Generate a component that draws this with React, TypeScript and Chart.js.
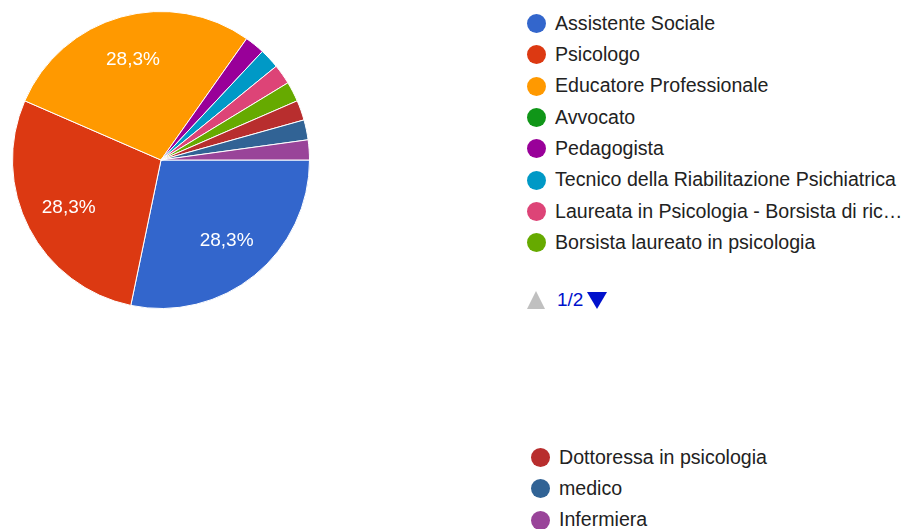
import React, { useEffect, useRef } from "react";
import { Chart, registerables } from "chart.js";

Chart.register(...registerables);

const categories = [
  "Assistente Sociale",
  "Psicologo",
  "Educatore Professionale",
  "Avvocato",
  "Pedagogista",
  "Tecnico della Riabilitazione Psichiatrica",
  "Laureata in Psicologia - Borsista di ric…",
  "Borsista laureato in psicologia",
  "Dottoressa in psicologia",
  "medico",
  "Infermiera",
];
const responses = [13, 13, 13, 0, 1, 1, 1, 1, 1, 1, 1];
const pageOneCount = 8;
const pagerLabel = "1/2";

const PALETTE = [
  "#3366cc", "#dc3912", "#ff9900", "#109618", "#990099", "#0099c6",
  "#dd4477", "#66aa00", "#b82e2e", "#316395", "#994499",
];

const FONT = '"Liberation Sans", Arial, sans-serif';

const pctLabels = {
  id: "pctLabels",
  afterDatasetsDraw(chart: any) {
    const ctx = chart.ctx;
    const meta = chart.getDatasetMeta(0);
    const data = chart.data.datasets[0].data as number[];
    const total = data.reduce((a, b) => a + b, 0);
    ctx.save();
    ctx.fillStyle = "#ffffff";
    ctx.font = `19px ${FONT}`;
    ctx.textAlign = "center";
    ctx.textBaseline = "middle";
    meta.data.forEach((arc: any, i: number) => {
      const frac = data[i] / total;
      if (frac < 0.05) return;
      const p = arc.getProps(["x", "y", "startAngle", "endAngle", "outerRadius"], true);
      const mid = (p.startAngle + p.endAngle) / 2;
      const r = p.outerRadius * 0.7;
      const txt = (frac * 100).toFixed(1).replace(".", ",") + "%";
      ctx.fillText(txt, p.x + Math.cos(mid) * r, p.y + Math.sin(mid) * r);
    });
    ctx.restore();
  },
};

function Dot({ color }: { color: string }) {
  return (
    <span
      style={{
        display: "inline-block",
        width: 19,
        height: 19,
        borderRadius: "50%",
        background: color,
        marginRight: 9,
        flex: "0 0 auto",
      }}
    />
  );
}

function LegendRow({ label, color }: { label: string; color: string }) {
  return (
    <div style={{ display: "flex", alignItems: "center", height: 31.3, whiteSpace: "nowrap" }}>
      <Dot color={color} />
      <span style={{ lineHeight: 1 }}>{label}</span>
    </div>
  );
}

export default function App() {
  const ref = useRef<HTMLCanvasElement>(null);
  useEffect(() => {
    const chart = new Chart(ref.current!, {
      type: "pie",
      data: {
        labels: categories,
        datasets: [
          {
            data: responses,
            backgroundColor: PALETTE.slice(0, responses.length),
            borderColor: "#ffffff",
            borderWidth: 1,
          },
        ],
      },
      options: {
        responsive: false,
        animation: false,
        rotation: 90,
        layout: { padding: 0 },
        plugins: { legend: { display: false }, tooltip: { enabled: false } },
      },
      plugins: [pctLabels],
    });
    return () => chart.destroy();
  }, []);

  return (
    <div
      style={{
        position: "absolute",
        left: 0,
        top: 0,
        width: 906,
        height: 529,
        background: "#fff",
        overflow: "hidden",
        fontFamily: FONT,
        fontSize: 19.6,
        color: "#222",
      }}
    >
      <canvas
        ref={ref}
        width={298}
        height={298}
        style={{ position: "absolute", left: 12, top: 11, width: 298, height: 298 }}
      />
      <div style={{ position: "absolute", left: 527, top: 8 }}>
        {categories.slice(0, pageOneCount).map((c, i) => (
          <LegendRow key={c} label={c} color={PALETTE[i]} />
        ))}
      </div>
      <div
        style={{
          position: "absolute",
          left: 527,
          top: 290,
          display: "flex",
          alignItems: "center",
          height: 20,
        }}
      >
        <span
          style={{
            width: 0,
            height: 0,
            borderLeft: "9px solid transparent",
            borderRight: "9px solid transparent",
            borderBottom: "18px solid #c0c0c0",
            marginRight: 12,
          }}
        />
        <span style={{ color: "#0011cc", marginRight: 4, fontSize: 19 }}>{pagerLabel}</span>
        <span
          style={{
            width: 0,
            height: 0,
            borderLeft: "10px solid transparent",
            borderRight: "10px solid transparent",
            borderTop: "17px solid #0011cc",
          }}
        />
      </div>
      <div style={{ position: "absolute", left: 531, top: 442 }}>
        {categories.slice(pageOneCount).map((c, i) => (
          <LegendRow key={c} label={c} color={PALETTE[pageOneCount + i]} />
        ))}
      </div>
    </div>
  );
}
